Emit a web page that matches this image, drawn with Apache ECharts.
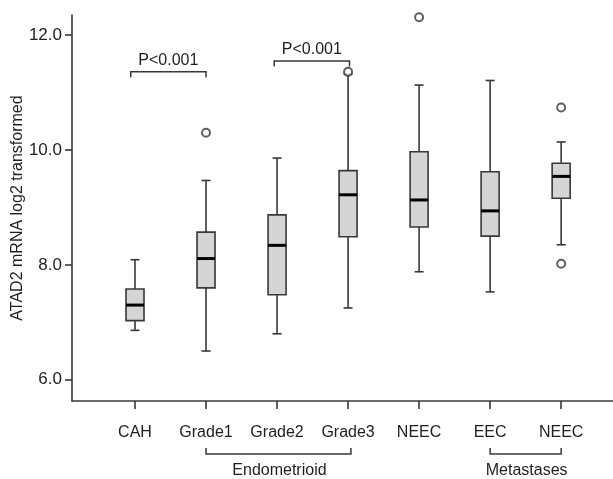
<!DOCTYPE html>
<html>
<head>
<meta charset="utf-8">
<title>ATAD2 mRNA</title>
<script src="https://cdn.jsdelivr.net/npm/echarts@6.0.0/dist/echarts.min.js"></script>
</head>
<body style="margin:0">
<div id="chart" style="width:613px;height:479px;"></div>
<script>
// categories sit at x = 1..7
var categories = ['CAH', 'Grade1', 'Grade2', 'Grade3', 'NEEC', 'EEC', 'NEEC'];
// [low whisker, Q1, median, Q3, high whisker]
var boxData = [
    [6.86, 7.03, 7.30, 7.58, 8.09],
    [6.50, 7.60, 8.11, 8.57, 9.47],
    [6.80, 7.48, 8.34, 8.87, 9.86],
    [7.25, 8.49, 9.22, 9.64, 11.32],
    [7.88, 8.66, 9.13, 9.97, 11.13],
    [7.53, 8.50, 8.94, 9.62, 11.21],
    [8.35, 9.16, 9.54, 9.77, 10.14]
];
// outliers: [x position, value]
var outliers = [[2, 10.30], [4, 11.36], [5, 12.31], [7, 10.74], [7, 8.02]];
var yTicks = [6, 8, 10, 12];
// significance brackets: [from x, to x, bar value, label]
var sigBrackets = [
    [0.94, 2.0, 11.36, 'P<0.001'],
    [2.96, 4.02, 11.55, 'P<0.001']
];
// group brackets under the axis: [from x, to x, label]
var groups = [
    [2, 4.04, 'Endometrioid'],
    [6, 7, 'Metastases']
];

var FONT = '"Liberation Sans", Arial, sans-serif';
var INK = '#1e1e1e';
var LINE = '#383838';
var yMin = 5.63;

var chart = echarts.init(document.getElementById('chart'));

function renderBox(params, api) {
    var x = api.value(0);
    var lo = api.coord([x, api.value(1)]);
    var q1 = api.coord([x, api.value(2)]);
    var md = api.coord([x, api.value(3)]);
    var q3 = api.coord([x, api.value(4)]);
    var hi = api.coord([x, api.value(5)]);
    var cx = md[0], hw = 9, cw = 4.5;
    var ls = { stroke: LINE, lineWidth: 1.6 };
    return {
        type: 'group',
        children: [
            { type: 'line', shape: { x1: cx, y1: lo[1], x2: cx, y2: q1[1] }, style: ls },
            { type: 'line', shape: { x1: cx, y1: q3[1], x2: cx, y2: hi[1] }, style: ls },
            { type: 'line', shape: { x1: cx - cw, y1: lo[1], x2: cx + cw, y2: lo[1] }, style: ls },
            { type: 'line', shape: { x1: cx - cw, y1: hi[1], x2: cx + cw, y2: hi[1] }, style: ls },
            { type: 'rect', shape: { x: cx - hw, y: q3[1], width: 2 * hw, height: q1[1] - q3[1] },
              style: { fill: '#d4d5d4', stroke: LINE, lineWidth: 1.6 } },
            { type: 'line', shape: { x1: cx - hw, y1: md[1], x2: cx + hw, y2: md[1] },
              style: { stroke: '#000', lineWidth: 3 } }
        ]
    };
}

function renderSig(params, api) {
    var a = api.coord([api.value(0), api.value(2)]);
    var b = api.coord([api.value(1), api.value(2)]);
    var ls = { stroke: LINE, lineWidth: 1.5 };
    var item = sigBrackets[params.dataIndex];
    return {
        type: 'group',
        children: [
            { type: 'polyline', shape: { points: [[a[0], a[1] + 5.5], [a[0], a[1]], [b[0], b[1]], [b[0], b[1] + 5.5]] }, style: Object.assign({ fill: null }, ls) },
            { type: 'text', x: (a[0] + b[0]) / 2, y: a[1] - 3,
              style: { text: item[3], fill: INK, font: '16px ' + FONT, align: 'center', verticalAlign: 'bottom' } }
        ]
    };
}

function renderGroup(params, api) {
    var item = groups[params.dataIndex];
    var a = api.coord([item[0], yMin]);
    var b = api.coord([item[1], yMin]);
    var y0 = a[1];
    return {
        type: 'group',
        children: [
            { type: 'polyline', shape: { points: [[a[0], y0 + 47], [a[0], y0 + 53], [b[0], y0 + 53], [b[0], y0 + 47]] },
              style: { stroke: LINE, lineWidth: 1.5, fill: null } },
            { type: 'text', x: (a[0] + b[0]) / 2 + 1, y: y0 + 70,
              style: { text: item[2], fill: INK, font: '16px ' + FONT, align: 'center', verticalAlign: 'middle' } }
        ]
    };
}

var option = {
    animation: false,
    backgroundColor: '#fff',
    grid: { left: 72, right: 0, top: 15, bottom: 78, outerBoundsMode: 'none', containLabel: false },
    xAxis: {
        type: 'value',
        min: 0.113,
        max: 7.73,
        splitLine: { show: false },
        axisLine: { lineStyle: { color: LINE, width: 1.6 } },
        axisTick: { customValues: [1, 2, 3, 4, 5, 6, 7], length: 8, lineStyle: { color: LINE, width: 1.6 } },
        axisLabel: {
            customValues: [1, 2, 3, 4, 5, 6, 7],
            formatter: function (v) { return categories[Math.round(v) - 1]; },
            margin: 24, fontSize: 16, color: INK, fontFamily: FONT
        }
    },
    yAxis: {
        type: 'value',
        min: yMin,
        max: 12.35,
        name: 'ATAD2 mRNA log2 transformed',
        nameLocation: 'middle',
        nameGap: 46,
        nameMoveOverlap: false,
        nameTextStyle: { fontSize: 16, color: INK, fontFamily: FONT },
        splitLine: { show: false },
        axisLine: { show: true, lineStyle: { color: LINE, width: 1.6 } },
        axisTick: { show: true, customValues: yTicks, length: 7, lineStyle: { color: LINE, width: 1.6 } },
        axisLabel: {
            customValues: yTicks,
            formatter: function (v) { return v.toFixed(1); },
            margin: 10, fontSize: 17, color: INK, fontFamily: FONT
        }
    },
    series: [
        {
            type: 'custom',
            renderItem: renderBox,
            encode: { x: 0, y: [1, 2, 3, 4, 5] },
            data: boxData.map(function (d, i) { return [i + 1].concat(d); }),
            z: 2
        },
        {
            type: 'scatter',
            symbol: 'emptyCircle',
            symbolSize: 8,
            itemStyle: { color: LINE, borderColor: LINE, borderWidth: 1.2 },
            data: outliers,
            z: 3
        },
        {
            type: 'custom',
            renderItem: renderSig,
            encode: { x: [0, 1], y: 2 },
            data: sigBrackets.map(function (d) { return [d[0], d[1], d[2]]; }),
            clip: false,
            z: 4
        },
        {
            type: 'custom',
            renderItem: renderGroup,
            encode: { x: [0, 1] },
            data: groups.map(function (d) { return [d[0], d[1], 6]; }),
            clip: false,
            z: 4
        }
    ]
};

chart.setOption(option);
</script>
</body>
</html>
